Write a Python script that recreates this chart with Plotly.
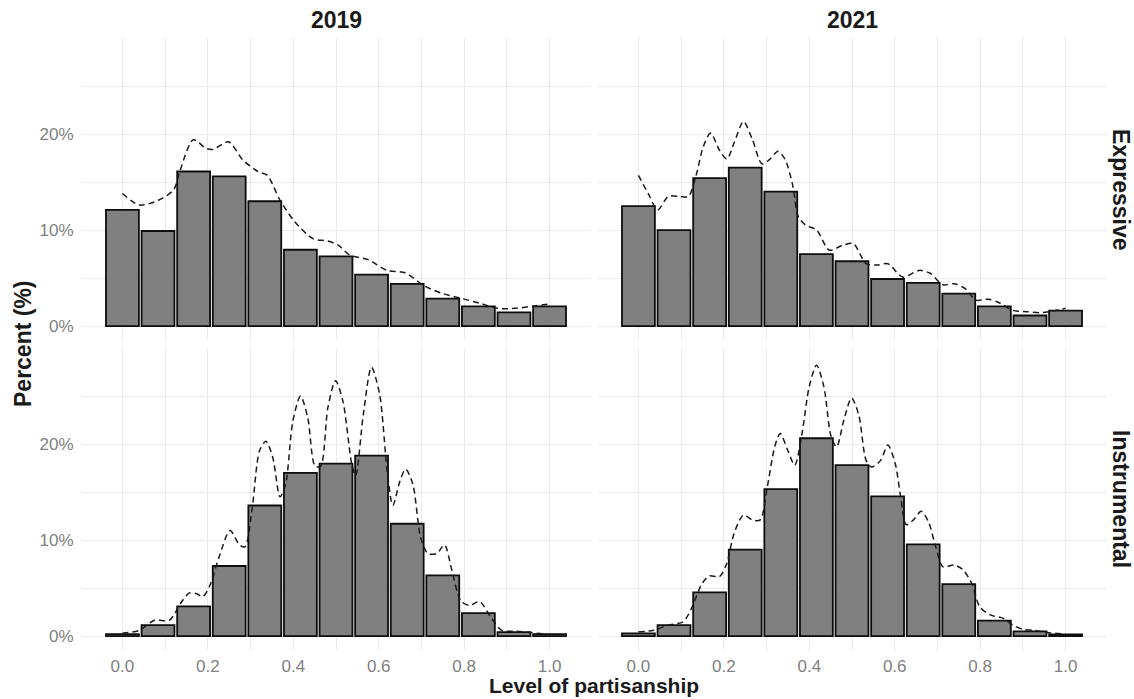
import plotly.graph_objects as go

# ---------------- data ----------------
bin_centers = [0.0, 0.0833, 0.1667, 0.25, 0.3333, 0.4167, 0.5, 0.5833, 0.6667, 0.75, 0.8333, 0.9167, 1.0]

bars_2019_expressive = [12.1, 9.9, 16.1, 15.6, 13.0, 7.95, 7.26, 5.35, 4.4, 2.85, 2.05, 1.42, 2.05]
bars_2021_expressive = [12.5, 10.0, 15.4, 16.5, 14.0, 7.5, 6.75, 4.9, 4.5, 3.37, 2.05, 1.1, 1.6]
bars_2019_instrumental = [0.2, 1.15, 3.1, 7.3, 13.6, 17.0, 17.95, 18.8, 11.7, 6.33, 2.4, 0.42, 0.2]
bars_2021_instrumental = [0.28, 1.15, 4.55, 9.0, 15.3, 20.6, 17.8, 14.55, 9.55, 5.4, 1.6, 0.49, 0.17]

dens_2019_expressive_x = [0.0, 0.04, 0.084, 0.12, 0.135, 0.166, 0.196, 0.213, 0.248, 0.282, 0.317, 0.339,
                          0.369, 0.403, 0.446, 0.481, 0.506, 0.532, 0.576, 0.619, 0.662, 0.706, 0.749,
                          0.792, 0.835, 0.878, 0.921, 0.965, 1.0]
dens_2019_expressive_y = [13.8, 12.6, 13.1, 14.2, 16.2, 19.4, 18.5, 18.4, 19.2, 17.3, 16.1, 15.7,
                          13.1, 10.9, 9.1, 8.85, 8.4, 7.4, 6.9, 5.8, 5.55, 4.2, 3.4,
                          2.9, 2.4, 1.85, 1.85, 2.1, 2.3]

dens_2021_expressive_x = [0.0, 0.023, 0.045, 0.07, 0.096, 0.117, 0.135, 0.152, 0.169, 0.19, 0.207, 0.225,
                          0.246, 0.267, 0.289, 0.306, 0.327, 0.344, 0.362, 0.374, 0.392, 0.417, 0.447,
                          0.477, 0.503, 0.533, 0.559, 0.584, 0.619, 0.657, 0.683, 0.713, 0.739, 0.765,
                          0.79, 0.82, 0.846, 0.876, 0.91, 0.944, 1.0]
dens_2021_expressive_y = [15.7, 13.8, 12.1, 13.5, 13.5, 13.5, 15.7, 18.7, 20.1, 18.3, 17.4, 19.2,
                          21.3, 19.4, 16.9, 17.3, 18.2, 17.3, 14.5, 11.4, 10.5, 10.0, 7.9,
                          8.4, 8.6, 6.5, 6.35, 6.5, 5.1, 5.8, 5.5, 4.3, 4.4, 3.9,
                          2.7, 2.8, 2.4, 1.65, 1.5, 1.4, 1.85]

dens_2019_instrumental_x = [0.0, 0.04, 0.075, 0.11, 0.136, 0.157, 0.174, 0.188, 0.205, 0.226, 0.252, 0.274,
                            0.287, 0.304, 0.321, 0.336, 0.352, 0.369, 0.382, 0.399, 0.417, 0.434, 0.451,
                            0.464, 0.481, 0.499, 0.516, 0.537, 0.546, 0.564, 0.583, 0.602, 0.62, 0.633,
                            0.65, 0.663, 0.68, 0.698, 0.715, 0.736, 0.754, 0.771, 0.793, 0.814, 0.836,
                            0.862, 0.888, 0.922, 0.948, 1.0]
dens_2019_instrumental_y = [0.3, 0.6, 1.65, 1.65, 3.4, 4.5, 4.4, 4.1, 5.3, 8.2, 11.0, 9.5,
                            9.3, 13.4, 19.3, 20.3, 18.6, 14.5, 15.8, 22.4, 25.0, 22.7, 17.7,
                            17.7, 23.8, 26.6, 24.5, 17.9, 16.7, 23.1, 28.0, 25.2, 17.1, 13.6,
                            16.2, 17.4, 15.8, 10.3, 8.6, 8.6, 9.5, 6.9, 3.6, 3.2, 3.6,
                            2.0, 0.6, 0.5, 0.4, 0.15]

dens_2021_instrumental_x = [0.0, 0.036, 0.07, 0.105, 0.126, 0.147, 0.165, 0.19, 0.207, 0.224, 0.246, 0.267,
                            0.285, 0.302, 0.319, 0.332, 0.349, 0.366, 0.383, 0.4, 0.417, 0.434, 0.451,
                            0.464, 0.481, 0.499, 0.516, 0.533, 0.546, 0.567, 0.584, 0.601, 0.614, 0.627,
                            0.644, 0.662, 0.679, 0.696, 0.713, 0.739, 0.76, 0.782, 0.799, 0.824, 0.854,
                            0.876, 0.901, 0.927, 0.961, 1.0]
dens_2021_instrumental_y = [0.45, 0.6, 1.15, 1.5, 3.05, 5.3, 6.25, 6.2, 7.6, 10.7, 12.6, 12.1,
                            12.1, 15.6, 19.7, 21.1, 19.4, 17.8, 21.1, 26.0, 28.2, 26.0, 20.8,
                            19.7, 22.5, 24.8, 23.0, 18.3, 17.6, 18.3, 19.9, 18.0, 14.5, 11.6,
                            12.1, 13.0, 11.9, 9.3, 7.2, 7.4, 6.9, 5.3, 3.05, 2.2, 1.85,
                            1.15, 0.7, 0.6, 0.35, 0.2]

col_labels = ["2019", "2021"]
row_labels = ["Expressive", "Instrumental"]
x_title = "Level of partisanship"
y_title = "Percent (%)"
x_tick_vals = [0.0, 0.2, 0.4, 0.6, 0.8, 1.0]
x_tick_text = ["0.0", "0.2", "0.4", "0.6", "0.8", "1.0"]
y_tick_vals = [0, 10, 20]
y_tick_text = ["0%", "10%", "20%"]

# ---------------- figure ----------------
W, H = 1134, 699
FONT = "Liberation Sans, Arial, sans-serif"
GRID = "#ebebeb"

panels = [
    (bars_2019_expressive, dens_2019_expressive_x, dens_2019_expressive_y, "x", "y"),
    (bars_2021_expressive, dens_2021_expressive_x, dens_2021_expressive_y, "x2", "y2"),
    (bars_2019_instrumental, dens_2019_instrumental_x, dens_2019_instrumental_y, "x3", "y3"),
    (bars_2021_instrumental, dens_2021_instrumental_x, dens_2021_instrumental_y, "x4", "y4"),
]

fig = go.Figure()
for bars, dx, dy, xa, ya in panels:
    fig.add_trace(go.Bar(
        x=bin_centers, y=bars, width=0.077, xaxis=xa, yaxis=ya,
        marker=dict(color="#808080", line=dict(color="#0d0d0d", width=1.8)),
        showlegend=False, hoverinfo="x+y",
    ))
    fig.add_trace(go.Scatter(
        x=dx, y=dy, xaxis=xa, yaxis=ya, mode="lines",
        line=dict(color="#1a1a1a", width=1.5, dash="6px,4px", shape="spline", smoothing=0.8),
        showlegend=False, hoverinfo="skip",
    ))

def px_x(a, b):
    return [a / W, b / W]

def px_y(top, bottom):
    return [1 - bottom / H, 1 - top / H]

x_dom_left = px_x(81.5, 590.5)
x_dom_right = px_x(597.5, 1106.5)
y_dom_top = px_y(38, 340)
y_dom_bottom = px_y(348, 650)

x_range = [-0.0958, 1.0958]
y_range = [-1.45, 30.0]

tick_font = dict(family=FONT, size=17, color="#7f7f7f")

def xaxis(domain, anchor, labels):
    return dict(
        domain=domain, anchor=anchor, range=x_range, tickvals=x_tick_vals, ticktext=x_tick_text,
        showticklabels=labels, showgrid=True, gridcolor=GRID, gridwidth=1.2,
        minor=dict(tickvals=[0.1, 0.3, 0.5, 0.7, 0.9], showgrid=True, gridcolor=GRID, gridwidth=1.2),
        zeroline=False, showline=False, ticks="", tickfont=tick_font, ticklabelstandoff=4,
        fixedrange=True,
    )

def yaxis(domain, anchor, labels):
    return dict(
        domain=domain, anchor=anchor, range=y_range, tickvals=y_tick_vals, ticktext=y_tick_text,
        showticklabels=labels, showgrid=True, gridcolor=GRID, gridwidth=1.2,
        minor=dict(tickvals=[5, 15, 25], showgrid=True, gridcolor=GRID, gridwidth=1.2),
        zeroline=False, showline=False, ticks="", tickfont=tick_font, ticklabelstandoff=7,
        fixedrange=True,
    )

fig.update_layout(
    width=W, height=H, autosize=False,
    margin=dict(l=0, r=0, t=0, b=0),
    paper_bgcolor="white", plot_bgcolor="white",
    barmode="overlay",
    xaxis=xaxis(x_dom_left, "y", False),
    yaxis=yaxis(y_dom_top, "x", True),
    xaxis2=xaxis(x_dom_right, "y2", False),
    yaxis2=yaxis(y_dom_top, "x2", False),
    xaxis3=xaxis(x_dom_left, "y3", True),
    yaxis3=yaxis(y_dom_bottom, "x3", True),
    xaxis4=xaxis(x_dom_right, "y4", True),
    yaxis4=yaxis(y_dom_bottom, "x4", False),
    font=dict(family=FONT),
)

title_font = dict(family=FONT, size=23, color="#1a1a1a")
xtitle_font = dict(family=FONT, size=21, color="#1a1a1a")
ann = []
ann.append(dict(text="<b>%s</b>" % col_labels[0], x=sum(x_dom_left) / 2, y=1 - 20 / H,
                xref="paper", yref="paper", showarrow=False, font=title_font,
                xanchor="center", yanchor="middle"))
ann.append(dict(text="<b>%s</b>" % col_labels[1], x=sum(x_dom_right) / 2, y=1 - 20 / H,
                xref="paper", yref="paper", showarrow=False, font=title_font,
                xanchor="center", yanchor="middle"))
ann.append(dict(text="<b>%s</b>" % row_labels[0], x=1121 / W, y=sum(y_dom_top) / 2,
                xref="paper", yref="paper", showarrow=False, font=title_font, textangle=90,
                xanchor="center", yanchor="middle"))
ann.append(dict(text="<b>%s</b>" % row_labels[1], x=1121 / W, y=sum(y_dom_bottom) / 2,
                xref="paper", yref="paper", showarrow=False, font=title_font, textangle=90,
                xanchor="center", yanchor="middle"))
ann.append(dict(text="<b>%s</b>" % y_title, x=23 / W, y=(y_dom_bottom[0] + y_dom_top[1]) / 2,
                xref="paper", yref="paper", showarrow=False, font=title_font, textangle=-90,
                xanchor="center", yanchor="middle"))
ann.append(dict(text="<b>%s</b>" % x_title, x=(x_dom_left[0] + x_dom_right[1]) / 2, y=0,
                xref="paper", yref="paper", showarrow=False, font=xtitle_font,
                xanchor="center", yanchor="bottom", yshift=0))
fig.update_layout(annotations=ann)

fig.write_html("out.html")
